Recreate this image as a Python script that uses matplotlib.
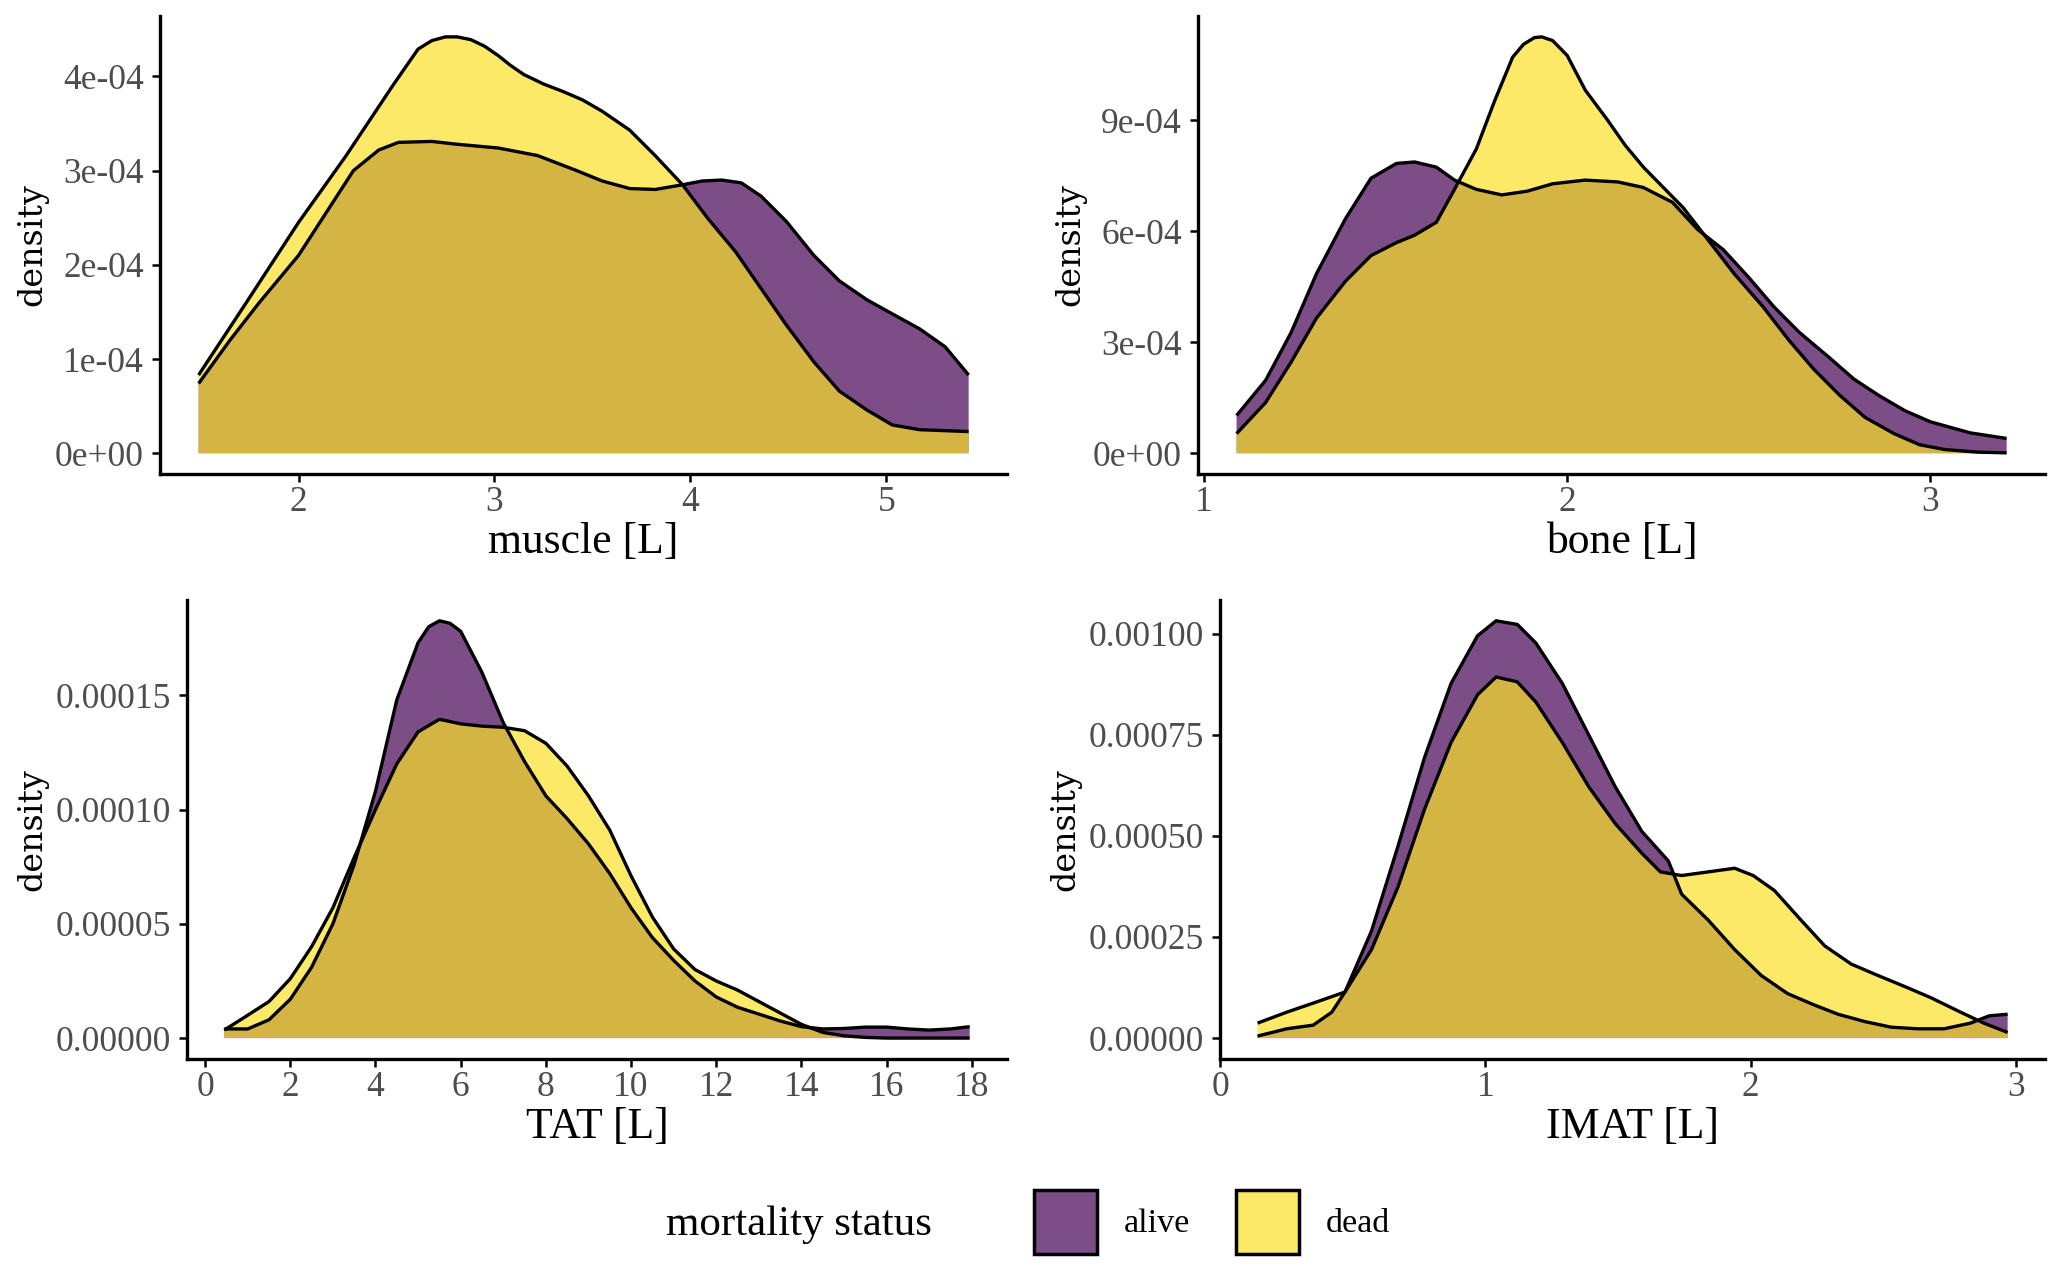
import numpy as np
import matplotlib
matplotlib.use('Agg')
import matplotlib.pyplot as plt
from matplotlib.patches import Patch
from matplotlib.ticker import FixedLocator, FuncFormatter

# ---- data (x in L, density in units of the axis) ----
muscle_x_alive = [1.49, 1.65, 1.8, 2.0, 2.14, 2.28, 2.41, 2.51, 2.68, 2.81, 3.02, 3.22, 3.42, 3.55,
                  3.69, 3.82, 3.96, 4.06, 4.16, 4.26, 4.36, 4.49, 4.63, 4.76, 4.9, 5.03, 5.17, 5.3,
                  5.42]
muscle_y_alive = [0.74, 1.2, 1.6, 2.1, 2.55, 3.0, 3.22, 3.3, 3.31, 3.28, 3.24, 3.16, 3.0, 2.89,
                  2.81, 2.8, 2.85, 2.89, 2.9, 2.87, 2.73, 2.46, 2.1, 1.83, 1.63, 1.48, 1.32, 1.13,
                  0.83]
muscle_x_dead = [1.49, 1.74, 2.0, 2.24, 2.48, 2.61, 2.68, 2.75, 2.81, 2.88, 2.95, 3.02, 3.08, 3.15,
                 3.25, 3.35, 3.45, 3.55, 3.69, 3.82, 3.96, 4.09, 4.23, 4.36, 4.49, 4.63, 4.76, 4.9,
                 5.03, 5.17, 5.42]
muscle_y_dead = [0.83, 1.62, 2.45, 3.15, 3.9, 4.29, 4.38, 4.42, 4.42, 4.39, 4.32, 4.22, 4.12, 4.02,
                 3.92, 3.84, 3.75, 3.63, 3.43, 3.16, 2.85, 2.49, 2.14, 1.75, 1.36, 0.97, 0.66, 0.46,
                 0.3, 0.25, 0.23]

bone_x_alive = [1.09, 1.17, 1.24, 1.31, 1.39, 1.46, 1.53, 1.58, 1.64, 1.69, 1.75, 1.82, 1.89, 1.96,
                2.05, 2.14, 2.21, 2.29, 2.36, 2.43, 2.5, 2.57, 2.64, 2.72, 2.79, 2.86, 2.93, 3.0,
                3.11, 3.21]
bone_y_alive = [1.02, 1.97, 3.26, 4.85, 6.34, 7.43, 7.83, 7.87, 7.73, 7.38, 7.13, 6.98, 7.08, 7.28,
                7.38, 7.33, 7.18, 6.78, 6.04, 5.5, 4.75, 3.95, 3.26, 2.6, 2.0, 1.55, 1.15, 0.85,
                0.55, 0.4]
bone_x_dead = [1.09, 1.17, 1.24, 1.31, 1.39, 1.46, 1.53, 1.58, 1.64, 1.69, 1.75, 1.8, 1.85, 1.88,
               1.91, 1.93, 1.96, 2.0, 2.05, 2.11, 2.16, 2.21, 2.27, 2.32, 2.39, 2.46, 2.54, 2.61,
               2.68, 2.75, 2.82, 2.9, 2.97, 3.04, 3.13, 3.21]
bone_y_dead = [0.53, 1.37, 2.46, 3.65, 4.65, 5.34, 5.69, 5.89, 6.24, 7.13, 8.22, 9.51, 10.7, 11.05,
               11.23, 11.25, 11.15, 10.75, 9.81, 9.02, 8.32, 7.73, 7.13, 6.63, 5.74, 4.85, 3.95,
               3.06, 2.26, 1.57, 0.97, 0.53, 0.23, 0.1, 0.03, 0.01]

tat_x_alive = [0.45, 1.0, 1.5, 2.0, 2.5, 3.0, 3.5, 4.0, 4.5, 5.0, 5.25, 5.5, 5.75, 6.0, 6.5, 7.0,
               7.5, 8.0, 8.5, 9.0, 9.5, 10.0, 10.5, 11.0, 11.5, 12.0, 12.5, 13.0, 13.5, 14.0, 14.5,
               15.0, 15.5, 16.0, 16.5, 17.0, 17.5, 17.95]
tat_y_alive = [0.4, 0.4, 0.8, 1.7, 3.1, 5.0, 7.6, 10.8, 14.8, 17.3, 18.0, 18.26, 18.15, 17.8, 16.0,
               13.8, 12.1, 10.6, 9.6, 8.5, 7.2, 5.7, 4.4, 3.4, 2.5, 1.8, 1.35, 1.05, 0.75, 0.5,
               0.4, 0.42, 0.48, 0.48, 0.4, 0.35, 0.4, 0.5]
tat_x_dead = [0.45, 1.0, 1.5, 2.0, 2.5, 3.0, 3.5, 4.0, 4.5, 5.0, 5.5, 6.0, 6.5, 7.0, 7.5, 8.0, 8.5,
              9.0, 9.5, 10.0, 10.5, 11.0, 11.5, 12.0, 12.5, 13.0, 13.5, 14.0, 14.5, 15.0, 15.5,
              16.0, 17.95]
tat_y_dead = [0.35, 1.0, 1.6, 2.6, 4.0, 5.7, 7.9, 10.0, 12.0, 13.4, 13.95, 13.75, 13.65, 13.6,
              13.45, 12.9, 11.9, 10.6, 9.1, 7.1, 5.3, 3.9, 3.0, 2.5, 2.1, 1.6, 1.1, 0.6, 0.25, 0.1,
              0.03, 0.0, 0.0]

imat_x_alive = [0.14, 0.25, 0.35, 0.42, 0.47, 0.57, 0.67, 0.77, 0.87, 0.97, 1.04, 1.12, 1.19, 1.29,
                1.39, 1.49, 1.59, 1.69, 1.74, 1.84, 1.94, 2.04, 2.14, 2.24, 2.33, 2.43, 2.53, 2.63,
                2.73, 2.83, 2.9, 2.97]
imat_y_alive = [0.05, 0.23, 0.32, 0.64, 1.14, 2.65, 4.75, 6.94, 8.77, 9.95, 10.32, 10.23, 9.77, 8.77,
                7.49, 6.21, 5.11, 4.38, 3.56, 2.92, 2.19, 1.55, 1.1, 0.82, 0.59, 0.41, 0.27, 0.23,
                0.23, 0.37, 0.55, 0.59]
imat_x_dead = [0.14, 0.25, 0.37, 0.47, 0.57, 0.67, 0.77, 0.87, 0.97, 1.04, 1.12, 1.19, 1.29, 1.39,
               1.49, 1.59, 1.66, 1.74, 1.84, 1.94, 2.01, 2.09, 2.19, 2.28, 2.38, 2.48, 2.58, 2.68,
               2.78, 2.88, 2.97]
imat_y_dead = [0.37, 0.64, 0.91, 1.14, 2.19, 3.74, 5.66, 7.31, 8.49, 8.93, 8.81, 8.31, 7.31, 6.21,
               5.3, 4.57, 4.11, 4.02, 4.11, 4.2, 4.02, 3.65, 2.92, 2.28, 1.83, 1.55, 1.28, 1.0,
               0.68, 0.37, 0.14]

panels = [
    ('muscle [L]', muscle_x_alive, muscle_y_alive, muscle_x_dead, muscle_y_dead, 1e-4,
     [2, 3, 4, 5], [0, 1e-4, 2e-4, 3e-4, 4e-4], 'sci'),
    ('bone [L]', bone_x_alive, bone_y_alive, bone_x_dead, bone_y_dead, 1e-4,
     [1, 2, 3], [0, 3e-4, 6e-4, 9e-4], 'sci'),
    ('TAT [L]', tat_x_alive, tat_y_alive, tat_x_dead, tat_y_dead, 1e-5,
     list(range(0, 19, 2)), [0, 5e-5, 1e-4, 1.5e-4], 'dec'),
    ('IMAT [L]', imat_x_alive, imat_y_alive, imat_x_dead, imat_y_dead, 1e-4,
     [0, 1, 2, 3], [0, 2.5e-4, 5e-4, 7.5e-4, 1e-3], 'dec'),
]

groups = ['alive', 'dead']
colors = ['#440154', '#FBE126']
alpha = 0.7

plt.rcParams['font.family'] = ['Liberation Serif', 'DejaVu Serif']

fig = plt.figure(figsize=(20.55, 12.74), dpi=100)
boxes = [
    [0.0779, 0.6279, 0.4122, 0.3595],
    [0.5830, 0.6279, 0.4122, 0.3595],
    [0.0910, 0.1688, 0.3990, 0.3603],
    [0.5937, 0.1688, 0.4015, 0.3603],
]

for box, (xlabel, xa, ya, xd, yd, unit, xt, yt, fmt) in zip(boxes, panels):
    ax = fig.add_axes(box)
    ya = np.array(ya) * unit
    yd = np.array(yd) * unit
    for x, y, c in [(xa, ya, colors[0]), (xd, yd, colors[1])]:
        ax.fill_between(x, 0, y, facecolor=c, alpha=alpha, linewidth=0)
        ax.plot(x, y, color='black', linewidth=2.4, solid_joinstyle='round',
                solid_capstyle='butt')
    allx = list(xa) + list(xd)
    lo, hi = min(allx), max(allx)
    ax.set_xlim(lo - 0.05 * (hi - lo), hi + 0.05 * (hi - lo))
    top = max(ya.max(), yd.max())
    ax.set_ylim(-0.05 * top, top * 1.05)
    ax.xaxis.set_major_locator(FixedLocator(xt))
    ax.yaxis.set_major_locator(FixedLocator(yt))
    if fmt == 'sci':
        ax.yaxis.set_major_formatter(FuncFormatter(lambda v, p: f'{v:.0e}'))
    else:
        ax.yaxis.set_major_formatter(FuncFormatter(lambda v, p: f'{v:.5f}'))
    for s in ['top', 'right']:
        ax.spines[s].set_visible(False)
    for s in ['left', 'bottom']:
        ax.spines[s].set_linewidth(2.4)
    ax.tick_params(axis='both', length=5.5, width=1.8, color='black', labelsize=25.5,
                   labelcolor='#4d4d4d')
    ax.tick_params(axis='y', pad=6)
    ax.tick_params(axis='x', pad=3)
    ax.set_xlabel(xlabel, fontsize=31.5, labelpad=2)
    ax.set_ylabel('density', fontsize=24, family='DejaVu Serif', labelpad=5)

# legend at the bottom
fig.text(0.324, 0.039, 'mortality status', fontsize=31, va='center', ha='left')
handles = [Patch(facecolor=matplotlib.colors.to_rgba(c, alpha), edgecolor='black', linewidth=2.5)
           for c in colors]
fig.legend(handles, groups, loc='center left', bbox_to_anchor=(0.503, 0.041), ncol=2,
           frameon=False, fontsize=24.5, handlelength=1.85, handleheight=2.5,
           handletextpad=0.8, columnspacing=1.35, borderpad=0, borderaxespad=0)

fig.savefig('out.png', dpi=100)
